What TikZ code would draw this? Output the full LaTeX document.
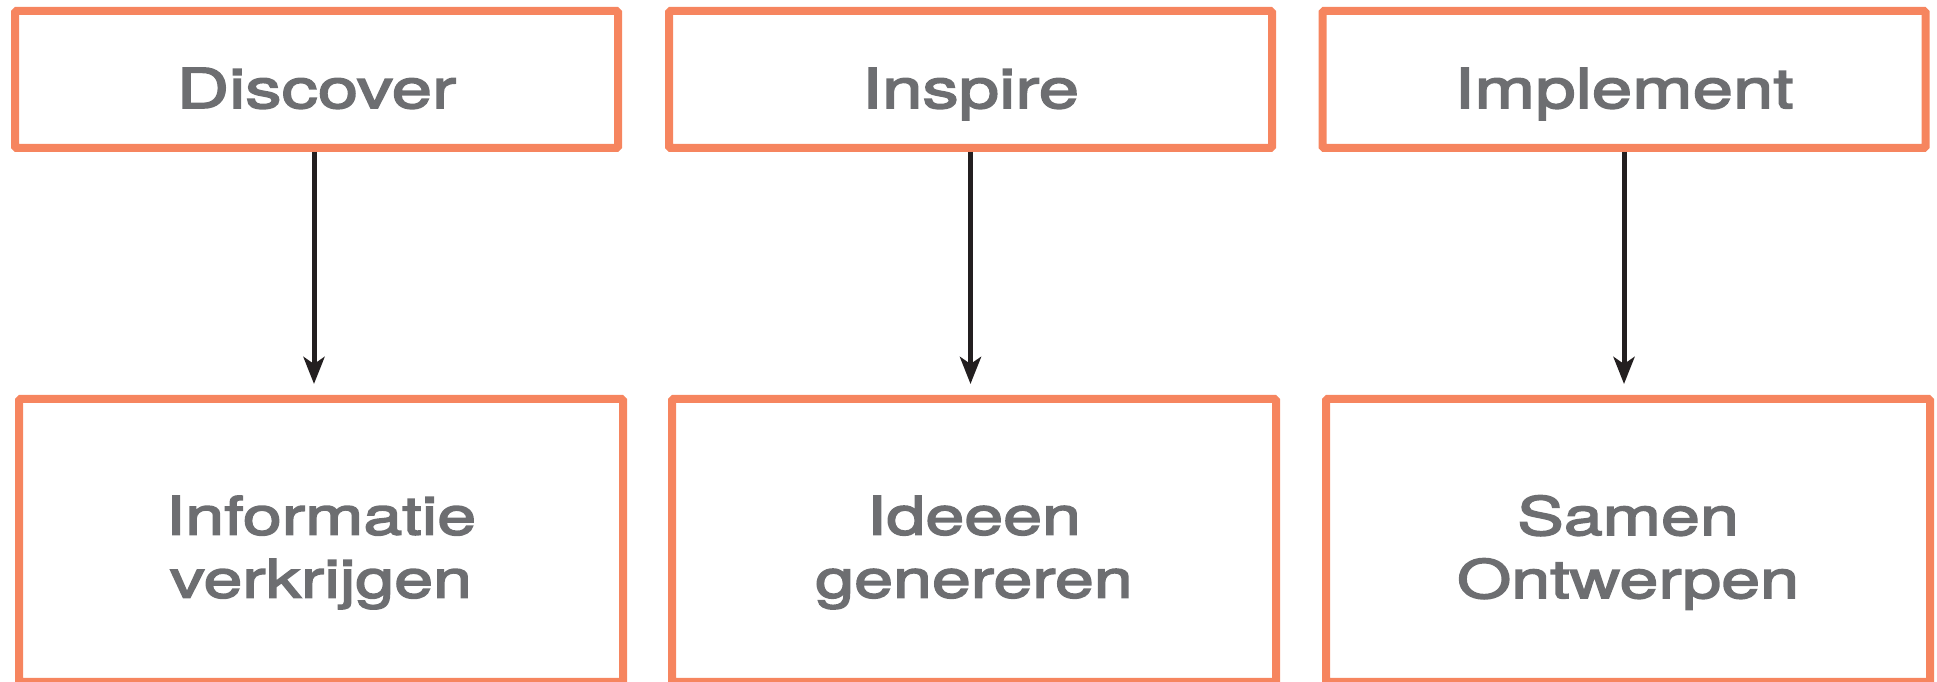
\documentclass[tikz,border=0pt]{standalone}
\usepackage{fontspec}
\setmainfont{TeX Gyre Heros}
\newfontfamily\lblfont[FakeStretch=1.32, FakeBold=3]{TeX Gyre Heros}
\usetikzlibrary{arrows.meta}
\definecolor{boxorange}{RGB}{246,133,95}
\definecolor{txtgray}{RGB}{109,110,113}
\definecolor{arrowblack}{RGB}{35,31,32}
\begin{document}
\begin{tikzpicture}[x=1pt,y=1pt,
  phasebox/.style={draw=boxorange, line width=8pt, rounded corners=1.5pt, minimum width=603pt, minimum height=137pt, inner sep=0pt},
  resultbox/.style={draw=boxorange, line width=8pt, rounded corners=1.5pt, minimum width=604pt, minimum height=283pt, inner sep=0pt},
  lbl/.style={text=txtgray, font=\lblfont\fontsize{55}{63}\selectfont, inner sep=0pt, align=center},
  lbltwo/.style={text=txtgray, font=\lblfont\fontsize{53}{63}\selectfont, inner sep=0pt, align=center},
  flow/.style={draw=arrowblack, line width=5pt, -{Stealth[length=27pt, width=21pt, inset=7pt]}, shorten >=11pt}
]
\useasboundingbox (0,0) rectangle (1937,682);
% top boxes (image y -> 682 - y)
\node[phasebox] (b1) at (316.5,602.5) {};
\node[phasebox] (b2) at (970.5,602.5) {};
\node[phasebox] (b3) at (1624,602.5) {};
% bottom boxes
\node[resultbox] (b4) at (321,141.5) {};
\node[resultbox] (b5) at (974,141.5) {};
\node[resultbox] (b6) at (1628,141.5) {};
% labels
\node[lbl, anchor=base] (t1) at ([yshift=-28.5pt]b1.center) {Discover};
\node[lbl, anchor=base] (t2) at ([yshift=-28.5pt]b2.center) {Inspire};
\node[lbl, anchor=base] (t3) at ([yshift=-28.5pt]b3.center) {Implement};
\node[lbltwo] (t4) at ([yshift=-12pt]b4.center) {Informatie\\verkrijgen};
\node[lbltwo] (t5) at ([yshift=-12pt]b5.center) {Ideeen\\genereren};
\node[lbltwo] (t6) at ([yshift=-12pt]b6.center) {Samen\\Ontwerpen};
% arrows
\coordinate (a1) at ([xshift=-2.5pt]b1.south);
\draw[flow] (a1) -- (a1 |- b4.north);
\draw[flow] (b2.south) -- (b2.south |- b5.north);
\draw[flow] (b3.south) -- (b3.south |- b6.north);
\end{tikzpicture}
\end{document}
